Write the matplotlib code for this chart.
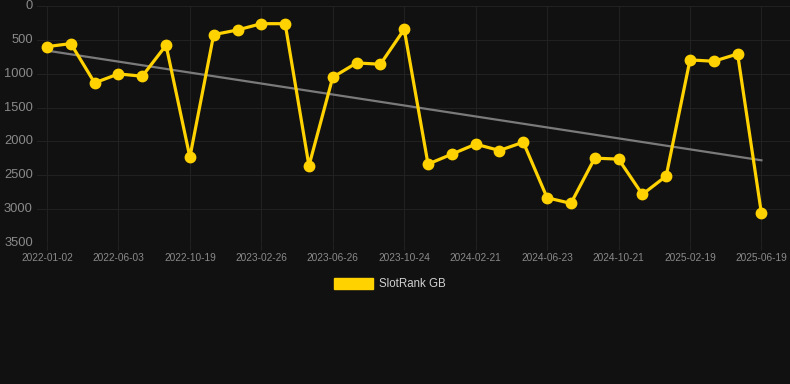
import numpy as np
import matplotlib
matplotlib.use("Agg")
import matplotlib.pyplot as plt

# Data
tick_labels = ["2022-01-02", "2022-06-03", "2022-10-19", "2023-02-26", "2023-06-26",
               "2023-10-24", "2024-02-21", "2024-06-23", "2024-10-21", "2025-02-19",
               "2025-06-19"]
ranks = [600, 555, 1135, 1003, 1037, 580, 2232, 423, 354, 261, 261,
         2360, 1052, 841, 860, 344, 2335, 2188, 2040, 2134, 2011,
         2832, 2915, 2247, 2261, 2782, 2512, 796, 816, 708, 3063]
series_name = "SlotRank GB"

BG = "#111111"
GRID = "#212121"
YELLOW = "#FFD200"
TXT = "#8a8a8a"

plt.rcParams['font.family'] = ['Liberation Sans', 'DejaVu Sans']

fig = plt.figure(figsize=(7.9, 3.84), dpi=100, facecolor=BG)
ax = fig.add_axes([37/790, 1 - 243/384, 753/790, 237/384], facecolor=BG)

x = np.arange(len(ranks))
coef = np.polyfit(x, ranks, 1)
trend = np.polyval(coef, x)
ax.plot(x, trend, color="#7a7a7a", lw=1.6, zorder=2)
ax.plot(x, ranks, color=YELLOW, lw=2.3, marker="o", ms=7.5, mfc=YELLOW, mec=YELLOW,
        zorder=3, label=series_name)

ax.set_ylim(3500, 0)
ax.set_xlim(-0.42, 31.2)
ax.set_yticks(np.arange(0, 3501, 500))
ax.set_yticklabels([str(v) for v in range(0, 3501, 500)])
tick_pos = x[::3]
ax.set_xticks(tick_pos)
ax.set_xticklabels(tick_labels)

ax.grid(True, color=GRID, lw=0.8)
ax.set_axisbelow(True)
for s in ax.spines.values():
    s.set_visible(False)
ax.tick_params(axis='y', length=0, pad=3, labelsize=9.3, labelcolor=TXT)
ax.tick_params(axis='x', length=5, color=GRID, width=0.8, pad=2, labelsize=7.3, labelcolor=TXT)
for lab in ax.get_yticklabels():
    lab.set_verticalalignment('center')

leg = fig.legend(handles=[matplotlib.patches.Patch(color=YELLOW)], labels=[series_name],
                 loc='center', bbox_to_anchor=(390/790, 1 - 284/384), frameon=False,
                 handlelength=3.4, handleheight=1.1, handletextpad=0.5,
                 fontsize=8.3, labelcolor="#d0d0d0")

fig.savefig("out.png", dpi=100, facecolor=BG)
